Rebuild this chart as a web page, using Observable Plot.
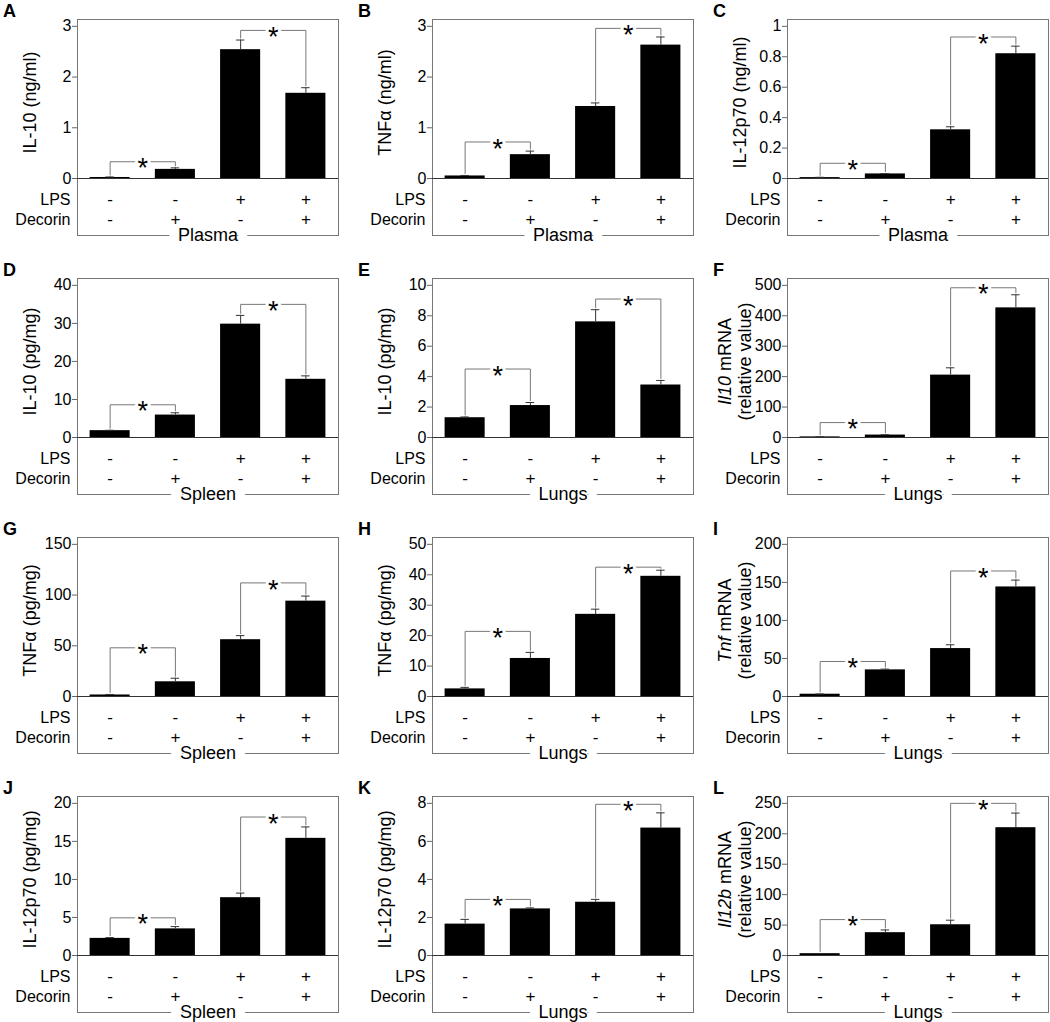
<!DOCTYPE html>
<html><head><meta charset="utf-8">
<script src="https://cdn.jsdelivr.net/npm/d3@7"></script>
<script src="https://cdn.jsdelivr.net/npm/@observablehq/plot@0.6"></script>
<style>
body{margin:0;background:#fff;}
#fig{position:relative;width:1050px;height:1022px;background:#fff;font-family:"Liberation Sans",Arial,Helvetica,sans-serif;overflow:hidden;}
.panel{position:absolute;}
.letter{position:absolute;font-weight:bold;font-size:18px;line-height:18px;color:#000;}
</style></head><body><div id="fig"></div>
<script>
// ---------- data ----------
const letters = ["A","B","C","D","E","F","G","H","I","J","K","L"];
const yLabelLine1 = ["IL-10 (ng/ml)","TNFα (ng/ml)","IL-12p70 (ng/ml)","IL-10 (pg/mg)","IL-10 (pg/mg)","Il10 mRNA",
                     "TNFα (pg/mg)","TNFα (pg/mg)","Tnf mRNA","IL-12p70 (pg/mg)","IL-12p70 (pg/mg)","Il12b mRNA"];
const yLabelLine2 = [null,null,null,null,null,"(relative value)",null,null,"(relative value)",null,null,"(relative value)"];
const italicGene = [null,null,null,null,null,"Il10",null,null,"Tnf",null,null,"Il12b"];
const tissues = ["Plasma","Plasma","Plasma","Spleen","Lungs","Lungs","Spleen","Lungs","Lungs","Spleen","Lungs","Lungs"];
const topTicks = [3,3,1,40,10,500,150,50,200,20,8,250];
const tickSteps = [1,1,0.2,10,2,100,50,10,50,5,2,50];
const groups = [1,2,3,4];
const lpsSigns = ["-","-","+","+"];
const decorinSigns = ["-","+","-","+"];
const means = [
  [0.02,0.18,2.54,1.68],
  [0.05,0.47,1.42,2.63],
  [0.006,0.03,0.32,0.82],
  [1.8,5.9,29.8,15.3],
  [1.3,2.1,7.6,3.45],
  [2,8,205,426],
  [1.5,14.5,56,94],
  [2.5,12.5,27,39.5],
  [3,35,63,144],
  [2.25,3.5,7.6,15.4],
  [1.65,2.45,2.8,6.7],
  [3,37.5,50.5,210]
];
const sems = [
  [0.01,0.03,0.19,0.11],
  [0.01,0.07,0.07,0.16],
  [0.002,0.002,0.02,0.05],
  [0.1,0.6,2.3,0.9],
  [0.05,0.2,0.8,0.3],
  [0.5,1,24,43],
  [0.5,3.5,4,5],
  [0.5,2,1.7,2],
  [0.3,1,5,9],
  [0.1,0.3,0.6,1.5],
  [0.25,0.05,0.15,0.8],
  [0.3,4.5,7.5,24]
];
const bracketLevels = [
  [0.33,2.92],
  [0.72,2.96],
  [0.10,0.93],
  [8.6,35],
  [4.5,9.1],
  [49,492],
  [48,112],
  [21.4,42.5],
  [46,165],
  [4.95,18.2],
  [2.95,7.95],
  [59,250]
];
const bracketPairs = [[0,1],[2,3]];

// ---------- drawing ----------
const fig = document.getElementById("fig");
const FRAME_PX = 159, TABLE_PX = 57;
const fmt = d3.format("~g");

letters.forEach((letter, p) => {
  const col = p % 3, row = Math.floor(p / 3);
  const left = col * 355, top = row * 259;
  const yTop = topTicks[p] * 1.045;
  const u = yTop / FRAME_PX;
  const yMin = -TABLE_PX * u;
  const rows = groups.map((g, i) => ({x: g, m: means[p][i], e: means[p][i] + sems[p][i], lps: lpsSigns[i], dec: decorinSigns[i]}));
  const pts = [];
  const stars = [];
  bracketPairs.forEach(([a, b], k) => {
    const h = bracketLevels[p][k];
    pts.push({k, x: groups[a], y: rows[a].e + 2 * u});
    pts.push({k, x: groups[a], y: h});
    pts.push({k, x: groups[b], y: h});
    pts.push({k, x: groups[b], y: rows[b].e + 2 * u});
    stars.push({x: (groups[a] + groups[b]) / 2, y: h});
  });
  const ticks = d3.range(0, topTicks[p] + tickSteps[p] / 2, tickSteps[p]);
  const two = yLabelLine2[p] !== null;
  const labelY = topTicks[p] * 0.5;

  const marks = [
    Plot.frame({stroke: "#777"}),
    Plot.text([tissues[p]], {frameAnchor: "bottom", lineAnchor: "middle", textAnchor: "middle", fontSize: 18, fill: "black", stroke: "white", strokeWidth: 20, strokeLinejoin: "round"}),
    Plot.rectY(rows, {x1: d => d.x - 0.307, x2: d => d.x + 0.307, y1: 0, y2: "m", fill: "black"}),
    Plot.ruleX(rows, {x: "x", y1: "m", y2: "e", stroke: "#333"}),
    Plot.ruleY(rows, {y: "e", x1: d => d.x - 0.065, x2: d => d.x + 0.065, stroke: "#333"}),
    Plot.ruleY([0], {stroke: "#333"}),
    Plot.line(pts, {x: "x", y: "y", z: "k", stroke: "#777", strokeWidth: 1}),
    Plot.text(stars, {x: "x", y: "y", text: () => "*", fontSize: 27, fill: "black", stroke: "white", strokeWidth: 6, strokeLinejoin: "round", dy: 7}),
    Plot.axisY(ticks, {tickSize: 5, tickPadding: 1, fontSize: 16, stroke: "#666", tickFormat: fmt, label: null}),
    Plot.text(["LPS"], {frameAnchor: "left", y: [-21 * u], textAnchor: "end", lineAnchor: "middle", dx: -7, fontSize: 16}),
    Plot.text(["Decorin"], {frameAnchor: "left", y: [-41 * u], textAnchor: "end", lineAnchor: "middle", dx: -7, fontSize: 16}),
    Plot.text(rows, {x: "x", y: () => -21 * u, text: "lps", fontSize: 17, lineAnchor: "middle"}),
    Plot.text(rows, {x: "x", y: () => -41 * u, text: "dec", fontSize: 17, lineAnchor: "middle"}),
    Plot.text([yLabelLine1[p]], {frameAnchor: "left", y: [labelY], rotate: -90, textAnchor: "middle", lineAnchor: "middle", dx: two ? -62 : -47, fontSize: 18})
  ];
  if (two) marks.push(Plot.text([yLabelLine2[p]], {frameAnchor: "left", y: [labelY], rotate: -90, textAnchor: "middle", lineAnchor: "middle", dx: -42, fontSize: 18}));

  const svg = Plot.plot({
    width: 340, height: 250,
    marginLeft: 77, marginRight: 2, marginTop: 19, marginBottom: 15,
    x: {domain: [0.5, 4.5], axis: null},
    y: {domain: [yMin, yTop], axis: null},
    style: {fontFamily: '"Liberation Sans", Arial, Helvetica, sans-serif', fontSize: "15px", background: "white", overflow: "visible", color: "black"},
    marks
  });
  if (italicGene[p]) {
    svg.querySelectorAll("text").forEach(t => {
      if (t.textContent === yLabelLine1[p]) {
        const rest = yLabelLine1[p].slice(italicGene[p].length);
        t.innerHTML = `<tspan font-style="italic">${italicGene[p]}</tspan>${rest}`;
      }
    });
  }
  const div = document.createElement("div");
  div.className = "panel";
  div.style.left = left + "px";
  div.style.top = top + "px";
  div.appendChild(svg);
  fig.appendChild(div);

  const lab = document.createElement("div");
  lab.className = "letter";
  lab.style.left = (left + 3) + "px";
  lab.style.top = (top + 2) + "px";
  lab.textContent = letter;
  fig.appendChild(lab);
});
</script>
</body></html>
